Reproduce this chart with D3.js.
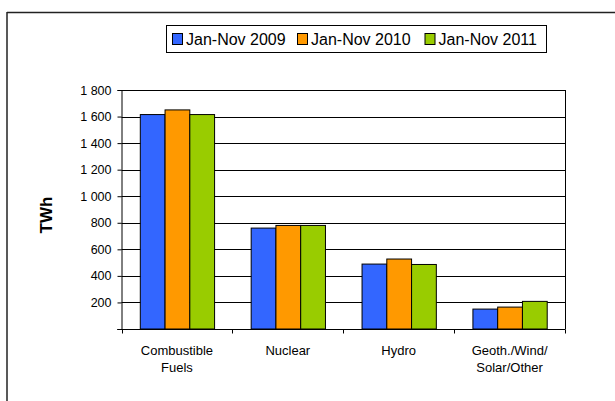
<!DOCTYPE html>
<html><head><meta charset="utf-8">
<script src="https://cdn.jsdelivr.net/npm/d3@7/dist/d3.min.js"></script>
<style>body{margin:0;background:#fff}svg{display:block;font-family:Arial,"Liberation Sans",sans-serif}</style>
</head><body>
<script>
const categories = [["Combustible","Fuels"],["Nuclear"],["Hydro"],["Geoth./Wind/","Solar/Other"]];
const seriesNames = ["Jan-Nov 2009","Jan-Nov 2010","Jan-Nov 2011"];
const seriesColors = ["#3366FF","#FF9900","#99CC00"];
const values2009 = [1615, 760, 489, 150];
const values2010 = [1650, 780, 527, 165];
const values2011 = [1615, 780, 486, 208];
const yTicks = [0,200,400,600,800,1000,1200,1400,1600,1800];
const yTitle = "TWh";

const series = [values2009, values2010, values2011];
const W = 615, H = 401;
const svg = d3.select("body").append("svg").attr("width", W).attr("height", H);

// frame
svg.append("line").attr("x1",7).attr("x2",615).attr("y1",12.5).attr("y2",12.5).attr("stroke","#222").attr("stroke-width",1.5);
svg.append("line").attr("x1",7).attr("x2",7).attr("y1",12).attr("y2",401).attr("stroke","#222").attr("stroke-width",1.5);

const L = 121.5, R = 565, T = 90, B = 329;
const catIdx = categories.map((c,i)=>i);
const x0 = d3.scaleBand().domain(catIdx).range([L, R]).padding(0);
const groupW = x0.bandwidth() * 0.67;
const x1 = d3.scaleBand().domain(d3.range(series.length)).range([0, groupW]).padding(0);
const y = d3.scaleLinear().domain([0, 1800]).range([B, T]);

// gridlines
svg.append("g").selectAll("line").data(yTicks.filter(t=>t>0)).join("line")
  .attr("x1", L).attr("x2", R)
  .attr("y1", d=>Math.round(y(d))+0.5).attr("y2", d=>Math.round(y(d))+0.5)
  .attr("stroke","#000").attr("stroke-width",1);
// right border
svg.append("line").attr("x1",R+0.5).attr("x2",R+0.5).attr("y1",T).attr("y2",B).attr("stroke","#000");

// bars
const groups = svg.append("g").selectAll("g").data(catIdx).join("g")
  .attr("transform", i=>`translate(${x0(i) + (x0.bandwidth()-groupW)/2},0)`);
groups.selectAll("rect").data(i=>series.map((s,k)=>({k, v:s[i]}))).join("rect")
  .attr("x", d=>x1(d.k)+0.5).attr("width", x1.bandwidth())
  .attr("y", d=>y(d.v)).attr("height", d=>B - y(d.v))
  .attr("fill", d=>seriesColors[d.k]).attr("stroke","#000").attr("stroke-width",1);

// y axis
const fmt = d => d === 0 ? "" : d3.format(",")(d).replace(/,/g, " ");
const yAxis = d3.axisLeft(y).tickValues(yTicks).tickFormat(fmt).tickSize(4).tickPadding(6);
const gy = svg.append("g").attr("transform",`translate(${L},0)`).call(yAxis);
gy.select(".domain").attr("stroke","#000");
gy.selectAll("text").attr("font-size","12.5px").attr("fill","#000").attr("font-family","Arial, 'Liberation Sans', sans-serif");

// x axis
const gx = svg.append("g").attr("transform",`translate(0,${B+0.5})`);
gx.append("line").attr("x1",L-4).attr("x2",R+0.5).attr("y1",0).attr("y2",0).attr("stroke","#000");
const bounds = catIdx.map(i=>x0(i)).concat([R]);
gx.selectAll("line.tk").data(bounds).join("line").attr("class","tk")
  .attr("x1",d=>Math.round(d)+0.5).attr("x2",d=>Math.round(d)+0.5).attr("y1",0).attr("y2",4).attr("stroke","#000");
const lbl = gx.selectAll("text").data(catIdx).join("text")
  .attr("text-anchor","middle").attr("font-size","13px").attr("fill","#000")
  .attr("x", i=>x0(i)+x0.bandwidth()/2).attr("y", 25);
lbl.selectAll("tspan").data(i=>categories[i].map((t,j)=>({t,j,i}))).join("tspan")
  .attr("x", d=>x0(d.i)+x0.bandwidth()/2).attr("dy", d=>d.j===0?0:17).text(d=>d.t);

// y title
svg.append("text").attr("transform","translate(52,215) rotate(-90)")
  .attr("text-anchor","middle").attr("font-size","17px").attr("font-weight","bold").text(yTitle);

// legend
const lg = svg.append("g");
lg.append("rect").attr("x",166.5).attr("y",25.5).attr("width",380).attr("height",27)
  .attr("fill","#fff").attr("stroke","#000").attr("stroke-width",1);
const itemX = [172.5, 297.5, 425];
seriesNames.forEach((n,k)=>{
  lg.append("rect").attr("x",itemX[k]).attr("y",33.5).attr("width",10).attr("height",11)
    .attr("fill",seriesColors[k]).attr("stroke","#000");
  lg.append("text").attr("x",itemX[k]+13.5).attr("y",45).attr("font-size","16px").attr("fill","#000").text(n);
});
</script>
</body></html>
